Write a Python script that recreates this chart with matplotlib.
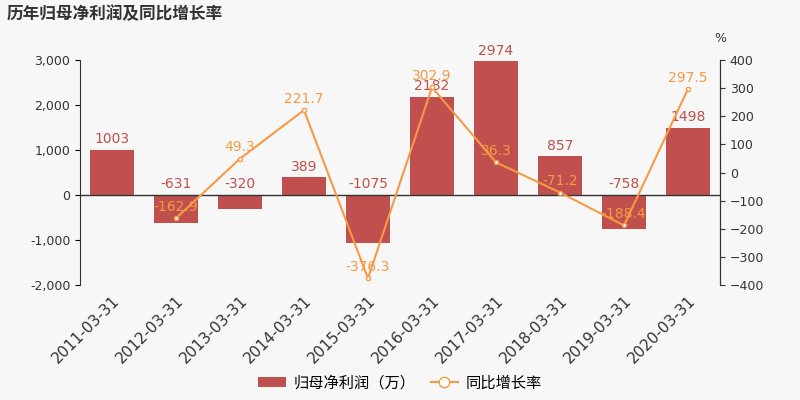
import matplotlib.pyplot as plt
import numpy as np

plt.rcParams['font.family'] = ['DejaVu Sans', 'Noto Sans CJK SC']

dates = ["2011-03-31", "2012-03-31", "2013-03-31", "2014-03-31", "2015-03-31",
         "2016-03-31", "2017-03-31", "2018-03-31", "2019-03-31", "2020-03-31"]
profit = [1003, -631, -320, 389, -1075, 2182, 2974, 857, -758, 1498]
growth = [None, -162.9, 49.3, 221.7, -376.3, 302.9, 36.3, -71.2, -188.4, 297.5]

bar_color = "#c0504d"
line_color = "#f59a45"
bg = "#f7f7f7"

fig = plt.figure(figsize=(8, 4), dpi=100, facecolor=bg)
ax = fig.add_axes([0.1, 0.2875, 0.8, 0.5625], facecolor=bg)
x = np.arange(len(dates))
ax.bar(x, profit, width=0.7, color=bar_color, label="归母净利润（万）")
ax.set_ylim(-2000, 3000)
ax.set_xlim(-0.5, len(dates) - 0.5)
ax.set_yticks(range(-2000, 3001, 1000))
ax.set_yticklabels([f"{v:,}" for v in range(-2000, 3001, 1000)], fontsize=9, color="#333333")
ax.axhline(0, color="#333333", lw=1)
for s in ["top", "bottom"]:
    ax.spines[s].set_visible(False)
ax.spines["left"].set_color("#333333")
ax.set_xticks(x)
ax.set_xticklabels(dates, rotation=45, ha="right", rotation_mode="anchor", fontsize=11, color="#333333")
ax.tick_params(axis="x", length=0, pad=6)
for xi, v in zip(x, profit):
    ax.text(xi, max(v, 0) + 80, str(v), ha="center", va="bottom", color=bar_color, fontsize=10)

ax2 = ax.twinx()
gx = [xi for xi, g in zip(x, growth) if g is not None]
gy = [g for g in growth if g is not None]
ax2.plot(gx, gy, color=line_color, lw=1.5, marker="o", ms=3,
         markerfacecolor="white", markeredgecolor=line_color, label="同比增长率")
ax2.set_ylim(-400, 400)
ax2.set_yticks(range(-400, 401, 100))
ax2.tick_params(axis="y", labelsize=9, colors="#333333")
for s in ["top", "bottom", "left"]:
    ax2.spines[s].set_visible(False)
ax2.spines["right"].set_color("#333333")
for xi, g in zip(gx, gy):
    ax2.text(xi, g + 15, f"{g}", ha="center", va="bottom", color=line_color, fontsize=10)
fig.text(0.893, 0.895, "%", fontsize=9, color="#333333")

fig.text(0.008, 0.965, "历年归母净利润及同比增长率", fontsize=12, fontweight="bold",
         color="#333333", va="center")

h1, l1 = ax.get_legend_handles_labels()
h2, l2 = ax2.get_legend_handles_labels()
leg = fig.legend(h1 + h2, l1 + l2, loc="lower center", bbox_to_anchor=(0.5, -0.01), ncol=2,
                 frameon=False, fontsize=11, handlelength=1.8, markerscale=2.5,
                 columnspacing=1.0, handletextpad=0.5)

fig.savefig("out.png", dpi=100, facecolor=bg)
